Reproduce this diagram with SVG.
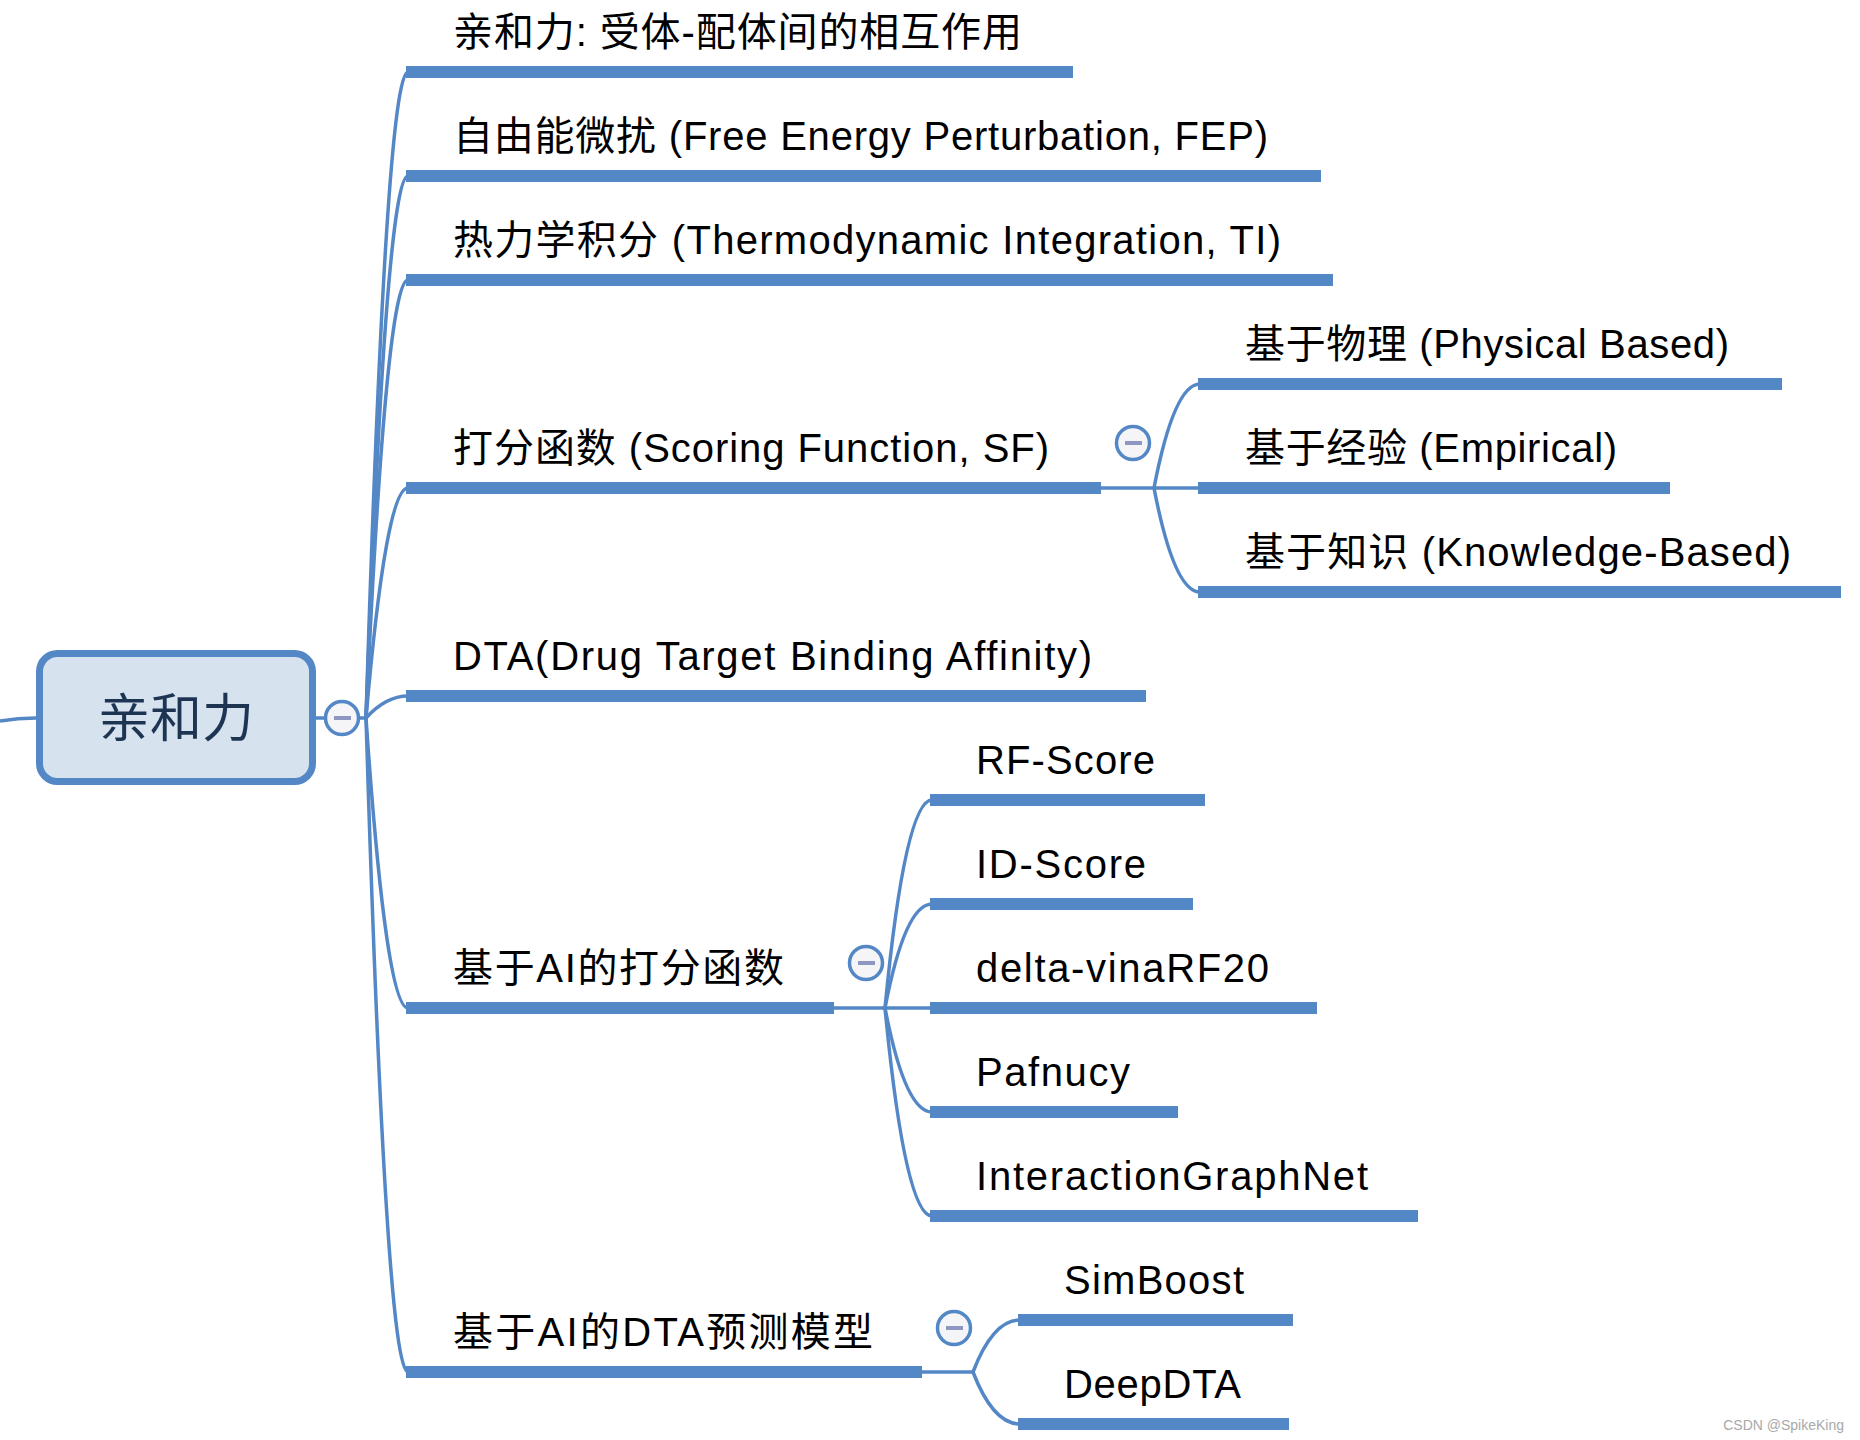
<svg xmlns="http://www.w3.org/2000/svg" width="1860" height="1440" viewBox="0 0 1860 1440">
<style>
.bar{fill:#5387c6}
.ln{fill:none;stroke:#5387c6;stroke-width:3.5}
.t{font-family:"Liberation Sans","Noto Sans CJK SC",sans-serif;font-size:40px;fill:#000}
.root{font-family:"Noto Sans CJK SC","Liberation Sans",sans-serif;font-size:52px;fill:#1d3452}
.tg circle{fill:#f5f5f7;stroke:#5387c6;stroke-width:3.5}
.tg rect{fill:#8d97c1}
.wm{font-family:"Liberation Sans",sans-serif;font-size:14px;fill:#a8a8a8}
</style>
<rect width="1860" height="1440" fill="#fff"/>
<g id="connectors">
<path class="ln" d="M0,721 Q18,718 36,718"/>
<path class="ln" d="M316,718 L366,718"/>
<path class="ln" d="M366,718 Q386,72 408,72"/>
<path class="ln" d="M366,718 Q386,176 408,176"/>
<path class="ln" d="M366,718 Q386,280 408,280"/>
<path class="ln" d="M366,718 Q386,488 408,488"/>
<path class="ln" d="M366,718 Q386,696 408,696"/>
<path class="ln" d="M366,718 Q386,1008 408,1008"/>
<path class="ln" d="M366,718 Q386,1372 408,1372"/>
<path class="ln" d="M1101,488 L1200,488"/>
<path class="ln" d="M1154,488 Q1174,384 1200,384"/>
<path class="ln" d="M1154,488 Q1174,592 1200,592"/>
<path class="ln" d="M834,1008 L932,1008"/>
<path class="ln" d="M885,1008 Q905,800 932,800"/>
<path class="ln" d="M885,1008 Q905,904 932,904"/>
<path class="ln" d="M885,1008 Q905,1112 932,1112"/>
<path class="ln" d="M885,1008 Q905,1216 932,1216"/>
<path class="ln" d="M922,1372 L973,1372"/>
<path class="ln" d="M973,1372 Q993,1320 1020,1320"/>
<path class="ln" d="M973,1372 Q993,1424 1020,1424"/>
</g>
<g id="root">
<rect x="39.5" y="653.5" width="273" height="128" rx="18" fill="#d7e2ef" stroke="#5387c6" stroke-width="7"/>
<text class="root" x="176" y="737" text-anchor="middle">亲和力</text>
</g>
<g id="toggle-root" class="tg"><circle cx="342" cy="718" r="16.5"/><rect x="334" y="716" width="17" height="4"/></g>
<g id="toggle-sf" class="tg"><circle cx="1133" cy="443" r="16.5"/><rect x="1125" y="441" width="17" height="4"/></g>
<g id="toggle-ai" class="tg"><circle cx="866" cy="963" r="16.5"/><rect x="858" y="961" width="17" height="4"/></g>
<g id="toggle-dta" class="tg"><circle cx="954" cy="1328" r="16.5"/><rect x="946" y="1326" width="17" height="4"/></g>
<g id="n1"><rect class="bar" x="406" y="66" width="667" height="12"/><text class="t" x="453" y="46" textLength="569" lengthAdjust="spacing">亲和力: 受体-配体间的相互作用</text></g>
<g id="n2"><rect class="bar" x="406" y="170" width="915" height="12"/><text class="t" x="453" y="150" textLength="815" lengthAdjust="spacing">自由能微扰 (Free Energy Perturbation, FEP)</text></g>
<g id="n3"><rect class="bar" x="406" y="274" width="927" height="12"/><text class="t" x="453" y="254" textLength="828" lengthAdjust="spacing">热力学积分 (Thermodynamic Integration, TI)</text></g>
<g id="n4"><rect class="bar" x="406" y="482" width="695" height="12"/><text class="t" x="453" y="462" textLength="596" lengthAdjust="spacing">打分函数 (Scoring Function, SF)</text></g>
<g id="n4a"><rect class="bar" x="1198" y="378" width="584" height="12"/><text class="t" x="1245" y="358" textLength="484" lengthAdjust="spacing">基于物理 (Physical Based)</text></g>
<g id="n4b"><rect class="bar" x="1198" y="482" width="472" height="12"/><text class="t" x="1245" y="462" textLength="372" lengthAdjust="spacing">基于经验 (Empirical)</text></g>
<g id="n4c"><rect class="bar" x="1198" y="586" width="643" height="12"/><text class="t" x="1245" y="566" textLength="546" lengthAdjust="spacing">基于知识 (Knowledge-Based)</text></g>
<g id="n5"><rect class="bar" x="406" y="690" width="740" height="12"/><text class="t" x="453" y="670" textLength="639" lengthAdjust="spacing">DTA(Drug Target Binding Affinity)</text></g>
<g id="n6"><rect class="bar" x="406" y="1002" width="428" height="12"/><text class="t" x="453" y="982" textLength="331" lengthAdjust="spacing">基于AI的打分函数</text></g>
<g id="n6a"><rect class="bar" x="930" y="794" width="275" height="12"/><text class="t" x="976" y="774" textLength="179" lengthAdjust="spacing">RF-Score</text></g>
<g id="n6b"><rect class="bar" x="930" y="898" width="263" height="12"/><text class="t" x="976" y="878" textLength="170" lengthAdjust="spacing">ID-Score</text></g>
<g id="n6c"><rect class="bar" x="930" y="1002" width="387" height="12"/><text class="t" x="976" y="982" textLength="293" lengthAdjust="spacing">delta-vinaRF20</text></g>
<g id="n6d"><rect class="bar" x="930" y="1106" width="248" height="12"/><text class="t" x="976" y="1086" textLength="154" lengthAdjust="spacing">Pafnucy</text></g>
<g id="n6e"><rect class="bar" x="930" y="1210" width="488" height="12"/><text class="t" x="976" y="1190" textLength="392" lengthAdjust="spacing">InteractionGraphNet</text></g>
<g id="n7"><rect class="bar" x="406" y="1366" width="516" height="12"/><text class="t" x="453" y="1346" textLength="420" lengthAdjust="spacing">基于AI的DTA预测模型</text></g>
<g id="n7a"><rect class="bar" x="1018" y="1314" width="275" height="12"/><text class="t" x="1064" y="1294" textLength="180" lengthAdjust="spacing">SimBoost</text></g>
<g id="n7b"><rect class="bar" x="1018" y="1418" width="271" height="12"/><text class="t" x="1064" y="1398" textLength="177" lengthAdjust="spacing">DeepDTA</text></g>
<text class="wm" x="1844" y="1430" text-anchor="end">CSDN @SpikeKing</text>
</svg>
